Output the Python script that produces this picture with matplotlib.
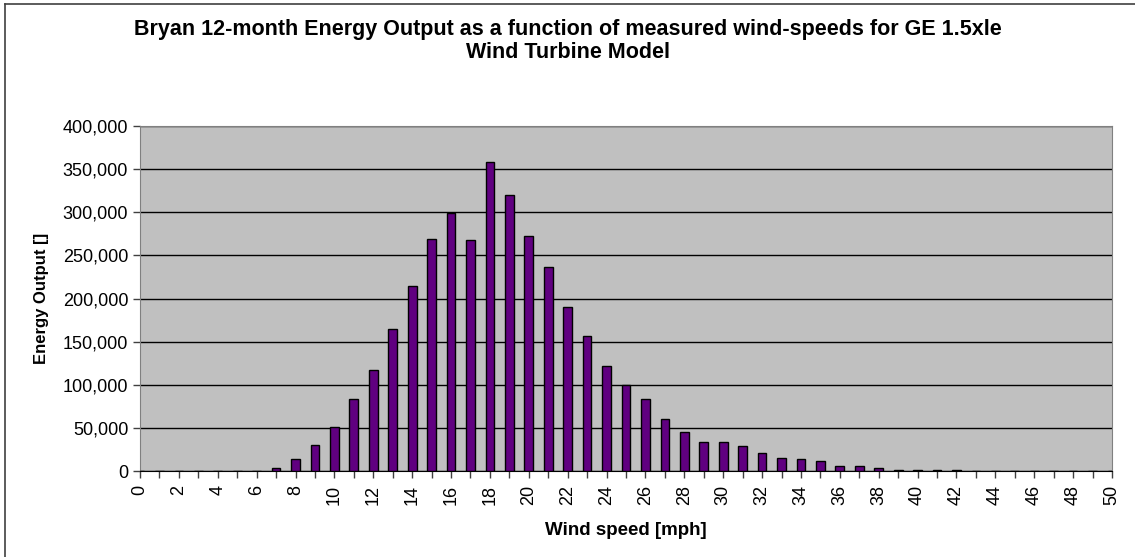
import matplotlib.pyplot as plt
from matplotlib.lines import Line2D
from matplotlib.ticker import FuncFormatter, MultipleLocator

# wind speed bins [mph] and 12-month energy output per bin
speeds = list(range(0, 51))
energy = [0, 0, 0, 0, 0, 0, 0,
          4000, 14000, 30000, 51000, 83500, 117500, 164500, 214000,
          269000, 299000, 267500, 358000, 319500, 272800, 237000, 190500,
          156500, 122000, 100000, 83500, 60600, 45200, 33200, 33200,
          29000, 20500, 15400, 14300, 11200, 5800, 5800, 3100,
          1600, 1500, 1400, 1400,
          0, 0, 0, 0, 0, 0, 0, 0]
x_labels = [str(s) for s in range(0, 51, 2)]

plt.rcParams['font.family'] = ['Liberation Sans', 'DejaVu Sans']

fig = plt.figure(figsize=(11.35, 5.57), dpi=100)
ax = fig.add_axes([140 / 1135, 1 - 471 / 557, 972 / 1135, 345 / 557])

# outer chart frame, only left and top edges are inside the crop
fx, fy = 5 / 1135, 1 - 4 / 557
fig.lines.append(Line2D([fx, fx], [0, fy], transform=fig.transFigure,
                        color='#404040', linewidth=1.2))
fig.lines.append(Line2D([fx, 1], [fy, fy], transform=fig.transFigure,
                        color='#404040', linewidth=1.2))

ax.set_facecolor('#C0C0C0')
ax.bar(speeds, energy, width=0.45, color='#600080', edgecolor='black',
       linewidth=1.0, zorder=3)

ax.set_xlim(0, 50)
ax.set_ylim(0, 400000)
ax.yaxis.set_major_locator(MultipleLocator(50000))
ax.yaxis.set_major_formatter(FuncFormatter(lambda v, p: f'{int(v):,}'))
ax.set_xticks(range(0, 51, 2))
ax.set_xticklabels(x_labels, rotation=90)
ax.xaxis.set_minor_locator(MultipleLocator(1))
ax.grid(axis='y', color='black', linewidth=1.0, zorder=1)
ax.set_axisbelow(True)

ax.tick_params(axis='both', which='both', direction='out', length=5,
               width=1, labelsize=13, color='#404040')
ax.tick_params(axis='x', pad=5)
for side in ['top', 'right', 'left']:
    ax.spines[side].set_color('#808080')
ax.spines['bottom'].set_color('black')

ax.set_xlabel('Wind speed [mph]', fontsize=13.5, fontweight='bold', labelpad=12)
ax.set_ylabel('Energy Output []', fontsize=12, fontweight='bold', labelpad=10)

fig.text(0.5, 1 - 30 / 557, 'Bryan 12-month Energy Output as a function of measured wind-speeds for GE 1.5xle',
         ha='center', va='center', fontsize=15.5, fontweight='bold')
fig.text(0.5, 1 - 52 / 557, 'Wind Turbine Model',
         ha='center', va='center', fontsize=15.5, fontweight='bold')

fig.savefig('out.png', dpi=100)
